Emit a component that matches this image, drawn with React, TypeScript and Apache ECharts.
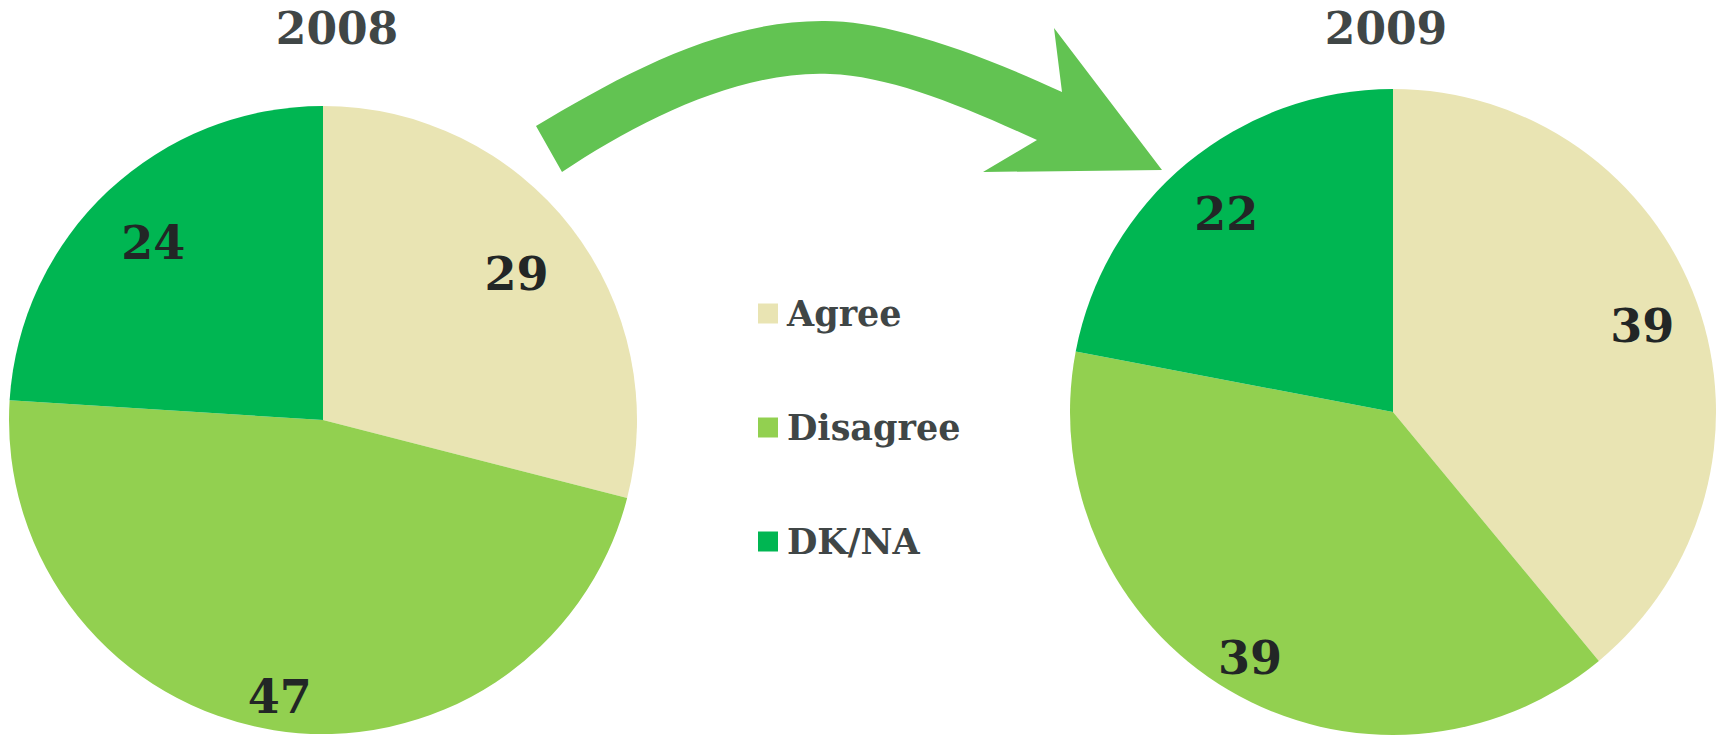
import React, { useEffect, useRef } from "react";
import * as echarts from "echarts";

// ---- data ----
const categories = ["Agree", "Disagree", "DK/NA"];
const years = ["2008", "2009"];
const values2008 = [29, 47, 24];
const values2009 = [39, 39, 22];
const sliceColors = ["#E9E4B3", "#92D050", "#00B652"];

// ---- layout / style ----
const W = 1723;
const H = 736;
const labelRadius2008 = [0.78, 0.88, 0.79];
const labelRadius2009 = [0.82, 0.87, 0.81];
const TEXT_DARK = "#404646";
const LABEL_DARK = "#222626";
const SERIF = '"DejaVu Serif", "Liberation Serif", serif';

const pies = [
  { name: years[0], center: [323, 420], radius: 314, values: values2008, labelR: labelRadius2008, titleX: 337 },
  { name: years[1], center: [1393, 412], radius: 323, values: values2009, labelR: labelRadius2009, titleX: 1386 },
];

const ARROW_D =
  "M536,126 C620,76 720,20 825,21 C880,21 960,45 1062,92 L1054,28 L1162,170 L983,172 L1037,140 C960,105 890,76 830,74 C740,70 640,120 562,172 Z";

echarts.graphic.registerShape("curvedArrow", echarts.graphic.extendPath(ARROW_D, {}) as any);

export default function App() {
  const ref = useRef<HTMLDivElement>(null);

  useEffect(() => {
    document.body.style.margin = "0";
    if (!ref.current) return;
    const chart = echarts.init(ref.current, undefined, { renderer: "svg", width: W, height: H });

    const series = pies.map((p) => ({
      type: "pie",
      name: p.name,
      center: p.center,
      radius: p.radius,
      startAngle: 90,
      clockwise: true,
      silent: true,
      emphasis: { disabled: true },
      itemStyle: { borderWidth: 0 },
      label: {
        show: true,
        position: "inside",
        formatter: "{c}",
        fontSize: 46,
        fontWeight: "bold",
        fontFamily: SERIF,
        color: LABEL_DARK,
      },
      labelLine: { show: false },
      labelLayout: (params: any) => {
        const r = params.labelRect;
        const lx = r.x + r.width / 2;
        const ly = r.y + r.height / 2;
        const dx = lx - p.center[0];
        const dy = ly - p.center[1];
        const d = Math.hypot(dx, dy) || 1;
        const t = p.labelR[params.dataIndex] * p.radius;
        return { x: p.center[0] + (dx / d) * t, y: p.center[1] + (dy / d) * t + 4 };
      },
      data: categories.map((c, i) => ({
        name: c,
        value: p.values[i],
        itemStyle: { color: sliceColors[i] },
      })),
    }));

    const option: any = {
      animation: false,
      backgroundColor: "#ffffff",
      legend: {
        data: categories,
        orient: "vertical",
        left: 758,
        top: 296,
        padding: 0,
        icon: "rect",
        itemWidth: 20,
        itemHeight: 20,
        itemGap: 79,
        selectedMode: false,
        textStyle: {
          fontSize: 35,
          fontWeight: "bold",
          fontFamily: SERIF,
          color: TEXT_DARK,
          padding: [0, 0, 0, 4],
        },
      },
      graphic: [
        {
          type: "curvedArrow",
          x: 0,
          y: 0,
          silent: true,
          style: { fill: "#62C352" },
        },
        ...pies.map((p) => ({
          type: "text",
          x: p.titleX,
          y: 28,
          silent: true,
          style: {
            text: p.name,
            fontSize: 44,
            fontWeight: "bold",
            fontFamily: SERIF,
            fill: TEXT_DARK,
            align: "center",
            verticalAlign: "middle",
          },
        })),
      ],
      series,
    };

    chart.setOption(option);
    return () => chart.dispose();
  }, []);

  return (
    <div
      ref={ref}
      style={{ position: "fixed", left: 0, top: 0, width: W, height: H, background: "#fff" }}
    />
  );
}
